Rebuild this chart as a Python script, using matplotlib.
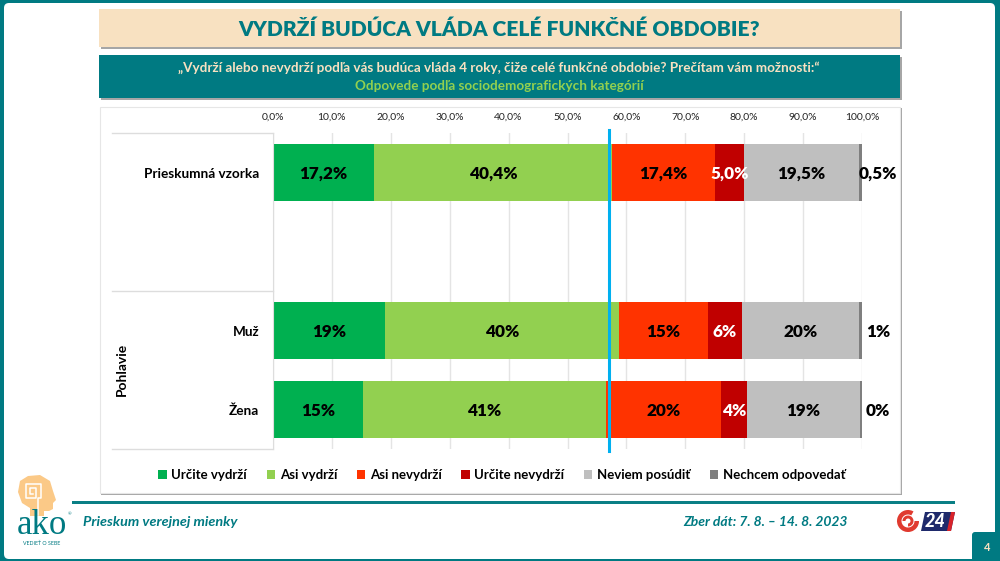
import matplotlib
matplotlib.use("Agg")
import matplotlib.pyplot as plt
import numpy as np
from matplotlib.patches import FancyBboxPatch, Polygon, Rectangle, Wedge

plt.rcParams['font.family'] = ['Lato', 'DejaVu Sans']

# data
categories = ["Prieskumná vzorka", "", "Muž", "Žena"]
series_names = ["Určite vydrží", "Asi vydrží", "Asi nevydrží", "Určite nevydrží", "Neviem posúdiť", "Nechcem odpovedať"]
urcite_vydrzi = [17.2, 0, 19.0, 15.3]
asi_vydrzi = [40.4, 0, 39.7, 41.2]
asi_nevydrzi = [17.4, 0, 15.2, 19.6]
urcite_nevydrzi = [5.0, 0, 5.7, 4.3]
neviem = [19.5, 0, 19.9, 19.3]
nechcem = [0.5, 0, 0.5, 0.4]
labels_urcite_vydrzi = ["17,2%", "", "19%", "15%"]
labels_asi_vydrzi = ["40,4%", "", "40%", "41%"]
labels_asi_nevydrzi = ["17,4%", "", "15%", "20%"]
labels_urcite_nevydrzi = ["5,0%", "", "6%", "4%"]
labels_neviem = ["19,5%", "", "20%", "19%"]
labels_nechcem = ["0,5%", "", "1%", "0%"]
x_ticks = [0, 10, 20, 30, 40, 50, 60, 70, 80, 90, 100]
x_tick_labels = ["0,0%", "10,0%", "20,0%", "30,0%", "40,0%", "50,0%", "60,0%", "70,0%", "80,0%", "90,0%", "100,0%"]
blue_line_value = 57.1

series = [urcite_vydrzi, asi_vydrzi, asi_nevydrzi, urcite_nevydrzi, neviem, nechcem]
series_labels = [labels_urcite_vydrzi, labels_asi_vydrzi, labels_asi_nevydrzi,
                 labels_urcite_nevydrzi, labels_neviem, labels_nechcem]
colors = ["#00B050", "#92D050", "#FF3300", "#C00000", "#BFBFBF", "#7F7F7F"]
label_colors = ["black", "black", "black", "white", "black", "black"]

TEAL = "#007A82"
W, H = 1000, 561
fig = plt.figure(figsize=(10, 5.61), dpi=100)

# background layer in pixel coordinates
bg = fig.add_axes([0, 0, 1, 1], zorder=0)
bg.set_xlim(0, W)
bg.set_ylim(H, 0)
bg.axis("off")

bg.add_patch(Rectangle((0, 0), W, H, color=TEAL, lw=0))
bg.add_patch(FancyBboxPatch((9, 8), 981, 546, boxstyle="round,pad=5,rounding_size=5", fc="white", ec="none"))
bg.add_patch(FancyBboxPatch((975, 535), 30, 40, boxstyle="round,pad=3,rounding_size=3", fc=TEAL, ec="none"))
bg.text(987, 547.5, "4", color="#F8E1C1", fontsize=8, fontweight="bold", ha="center", va="center")


def box(x0, y0, x1, y1, color):
    bg.add_patch(Rectangle((x0 + 2, y0 + 2), x1 - x0, y1 - y0, color="#A6A6A6", lw=0))
    bg.add_patch(Rectangle((x0, y0), x1 - x0, y1 - y0, color=color, lw=0))


box(99, 9, 900, 47, "#F8E1C1")
box(99, 55, 900, 98, TEAL)
box(99, 106, 900, 493, "white")
bg.add_patch(Rectangle((99.5, 106.5), 800, 386, fc="none", ec="#E6E6E6", lw=0.8))

bg.text(499.5, 29, "VYDRŽÍ BUDÚCA VLÁDA CELÉ FUNKČNÉ OBDOBIE?", color=TEAL, fontsize=15.1,
        fontweight=800, ha="center", va="center")
bg.text(499, 68, "„Vydrží alebo nevydrží podľa vás budúca vláda 4 roky, čiže celé funkčné obdobie? Prečítam vám možnosti:“",
        color="#F8E1C1", fontsize=9.7, fontweight="bold", ha="center", va="center")
bg.text(499.5, 85.5, "Odpovede podľa sociodemografických kategórií", color="#92D050", fontsize=9.7,
        fontweight="bold", ha="center", va="center")

# footer
bg.add_patch(Rectangle((72, 501), 883, 3, color="#0A7F85", lw=0))
bg.text(83, 522, "Prieskum verejnej mienky", color=TEAL, fontsize=10.4, fontweight="bold",
        style="italic", ha="left", va="center")
bg.text(848, 522, "Zber dát: 7. 8. – 14. 8. 2023", color=TEAL, fontsize=10, fontweight="bold",
        style="italic", ha="right", va="center")

# ako logo
head = [(18, 492), (20, 481), (28, 476), (40, 475), (50, 481), (53, 491), (56, 500), (53, 503),
        (53, 509), (49, 511), (44, 511), (44, 516), (30, 516), (30, 508), (22, 503)]
bg.add_patch(Polygon(head, closed=True, fc="#FBC987", ec="none"))
spiral = [(38, 515), (38, 498), (41, 498), (41, 484), (26, 484), (26, 498), (36, 498), (36, 488),
          (30, 488), (30, 494), (33, 494)]
bg.plot(*zip(*spiral), color="white", lw=1.1)
bg.text(42, 525, "ako", color=TEAL, fontsize=25, family="Liberation Serif", ha="center", va="center")
bg.text(69.5, 514, "®", color=TEAL, fontsize=3.2, ha="center", va="center")
bg.text(42, 543, "VEDIEŤ O SEBE", color=TEAL, fontsize=3.8, ha="center", va="center")

# O24 logo
bg.add_patch(Wedge((908, 521), 11, 0, 300, width=4.5, fc="#E03A2F", ec="none"))
bg.add_patch(Wedge((908, 521), 5.5, 180, 90, width=3, fc="#E03A2F", ec="none"))
bg.add_patch(Polygon([(925, 512), (955, 512), (951, 531), (921, 531)], closed=True, fc="#1F2A6B", ec="none"))
bg.add_patch(Polygon([(951, 512), (955, 512), (951, 531), (947, 531)], closed=True, fc="#D8232A", ec="none"))
bg.text(935.5, 521.5, "24", color="white", fontsize=13, fontweight=900, style="italic", ha="center", va="center")

# chart
left, right, top, bottom = 273, 862, 133, 449
ax = fig.add_axes([left / W, 1 - bottom / H, (right - left) / W, (bottom - top) / H], zorder=1)
ax.patch.set_alpha(0)

y = np.arange(len(categories))
lefts = np.zeros(len(categories))
for name, values, texts, color, text_color in zip(series_names, series, series_labels, colors, label_colors):
    values = np.array(values)
    ax.barh(y, values, left=lefts, height=0.71, color=color, label=name, zorder=2)
    for i, t in enumerate(texts):
        if not t:
            continue
        if color == colors[-1]:
            ax.annotate(t, (100, y[i]), xytext=(11.5, 0), textcoords="offset points", ha="center",
                        va="center_baseline", fontsize=12.3, fontweight=800, color=text_color, zorder=3,
                        annotation_clip=False)
        else:
            ax.text(lefts[i] + values[i] / 2, y[i], t, ha="center", va="center_baseline",
                    fontsize=12.3, fontweight=800, color=text_color, zorder=3)
    lefts = lefts + values

ax.set_xlim(0, 100)
ax.set_ylim(len(categories) - 0.5, -0.5)
ax.set_xticks(x_ticks)
ax.set_xticklabels(x_tick_labels, fontsize=7.5, color="#222222")
ax.xaxis.tick_top()
ax.tick_params(axis="x", length=0, pad=8)
ax.set_yticks(y)
ax.set_yticklabels(categories, fontsize=9.8, fontweight="bold")
ax.tick_params(axis="y", length=0, pad=10)
ax.grid(axis="x", color="#E4E4E4", lw=1, zorder=0)
ax.set_axisbelow(True)
for s in ["top", "right", "bottom"]:
    ax.spines[s].set_visible(False)
ax.spines["left"].set_color("#DDDDDD")

# blue reference line, runs a bit past the plot area
ax.plot([blue_line_value, blue_line_value], [-0.54, 3.53], color="#00B0F0", lw=2.2, zorder=4, clip_on=False)

# category table lines on the left
for yy in [top, 291, bottom]:
    bg.plot([112, left], [yy, yy], color="#DDDDDD", lw=1)
bg.text(122, 369, "Pohlavie", rotation=90, fontsize=10, fontweight="bold", ha="center", va="center", zorder=5)

handles, names = ax.get_legend_handles_labels()
fig.legend(handles, names, loc="center", bbox_to_anchor=(502 / W, 1 - 475 / H), ncol=6, frameon=False,
           handlelength=0.62, handleheight=0.62, handletextpad=0.35, columnspacing=1.5,
           prop={"weight": "bold", "size": 9.55})

fig.savefig("out.png", dpi=100)
